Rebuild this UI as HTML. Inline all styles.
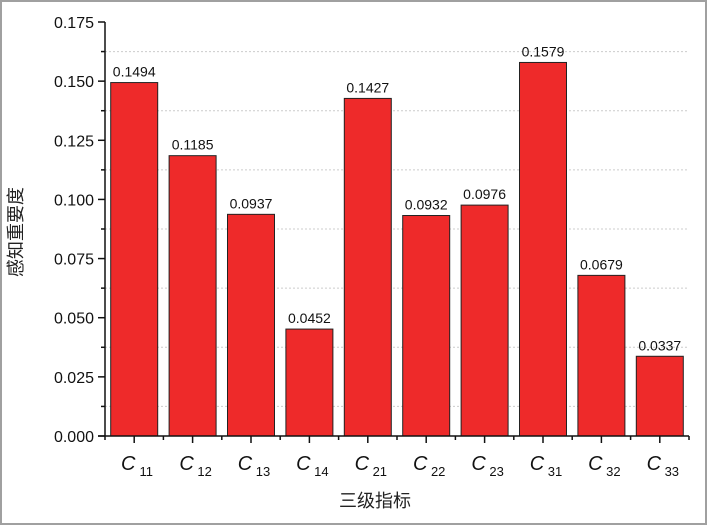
<!DOCTYPE html>
<html><head><meta charset="utf-8"><style>
body{margin:0;background:#fff}
svg{display:block;font-family:"Liberation Sans","Noto Sans CJK SC",sans-serif}
</style></head><body>
<svg width="707" height="525">
<rect x="1" y="1" width="705" height="523" fill="#fff" stroke="#a0a0a0" stroke-width="2"/>
<g id="grid"></g>
<g id="bars"></g>
<g id="axes"></g>
<text x="375" y="507" font-size="18" text-anchor="middle" fill="#222">三级指标</text>
<text transform="translate(22,232) rotate(-90)" font-size="18" text-anchor="middle" fill="#222">感知重要度</text>
</svg>
<script>
const categories=["11","12","13","14","21","22","23","31","32","33"];
const values=[0.1494,0.1185,0.0937,0.0452,0.1427,0.0932,0.0976,0.1579,0.0679,0.0337];
const labels=["0.1494","0.1185","0.0937","0.0452","0.1427","0.0932","0.0976","0.1579","0.0679","0.0337"];
const yTicks=[0,0.025,0.05,0.075,0.1,0.125,0.15,0.175];
const yTickLabels=["0.000","0.025","0.050","0.075","0.100","0.125","0.150","0.175"];
const NS="http://www.w3.org/2000/svg";
const X0=105,X1=689,Y0=436,Y1=22,YMAX=0.175;
const bw=(X1-X0)/categories.length;
const y=v=>Y0-(v/YMAX)*(Y0-Y1);
const xc=i=>X0+bw*(i+0.5);
function mk(tag,attrs,parent){const e=document.createElementNS(NS,tag);for(const k in attrs)e.setAttribute(k,attrs[k]);parent.appendChild(e);return e;}
const grid=document.getElementById('grid'),bars=document.getElementById('bars'),axes=document.getElementById('axes');
for(let i=0;i<yTicks.length-1;i++){
 const v=(yTicks[i]+yTicks[i+1])/2;
 const g=mk('line',{x1:X0,x2:X1,y1:y(v),y2:y(v),stroke:'#ccc','stroke-dasharray':'2,2','stroke-width':1},grid);
 
 
}
values.forEach((v,i)=>{
 const r=mk('rect',{x:xc(i)-23.5,y:y(v),width:47,height:Y0-y(v),fill:'#ee2a2a',stroke:'#222','stroke-width':1},bars);
 
 
 const t=mk('text',{x:xc(i),y:y(v)-6,'font-size':14,'text-anchor':'middle',fill:'#111'},bars);
 t.textContent=labels[i];
 
 
 const c=mk('text',{x:xc(i)-6,y:470,'font-size':20,'text-anchor':'middle','font-style':'italic',fill:'#111'},axes);
 c.textContent='C';
 
 
 const s=mk('text',{x:xc(i)+12,y:476,'font-size':13,'text-anchor':'middle',fill:'#111'},axes);
 s.textContent=categories[i];
 
 
 mk('line',{x1:xc(i),x2:xc(i),y1:Y0,y2:Y0+7,stroke:'#111','stroke-width':1.5},axes);
});
for(let i=0;i<=categories.length;i++){const xx=X0+bw*i;mk('line',{x1:xx,x2:xx,y1:Y0,y2:Y0+4,stroke:'#111','stroke-width':1.5},axes);}
yTicks.forEach((v,i)=>{
 mk('line',{x1:X0-7,x2:X0,y1:y(v),y2:y(v),stroke:'#111','stroke-width':1.5},axes);
 if(i<yTicks.length-1){const m=(v+yTicks[i+1])/2;mk('line',{x1:X0-4,x2:X0,y1:y(m),y2:y(m),stroke:'#111','stroke-width':1.5},axes);}
 const t=mk('text',{x:X0-11,y:y(v)+6,'font-size':16,'text-anchor':'end',fill:'#111'},axes);
 t.textContent=yTickLabels[i];
 
 
});
mk('line',{x1:X0,x2:X0,y1:Y1,y2:Y0,stroke:'#111','stroke-width':1.5},axes);
mk('line',{x1:X0-7,x2:X1,y1:Y0,y2:Y0,stroke:'#111','stroke-width':1.5},axes);
</script>
</body></html>
